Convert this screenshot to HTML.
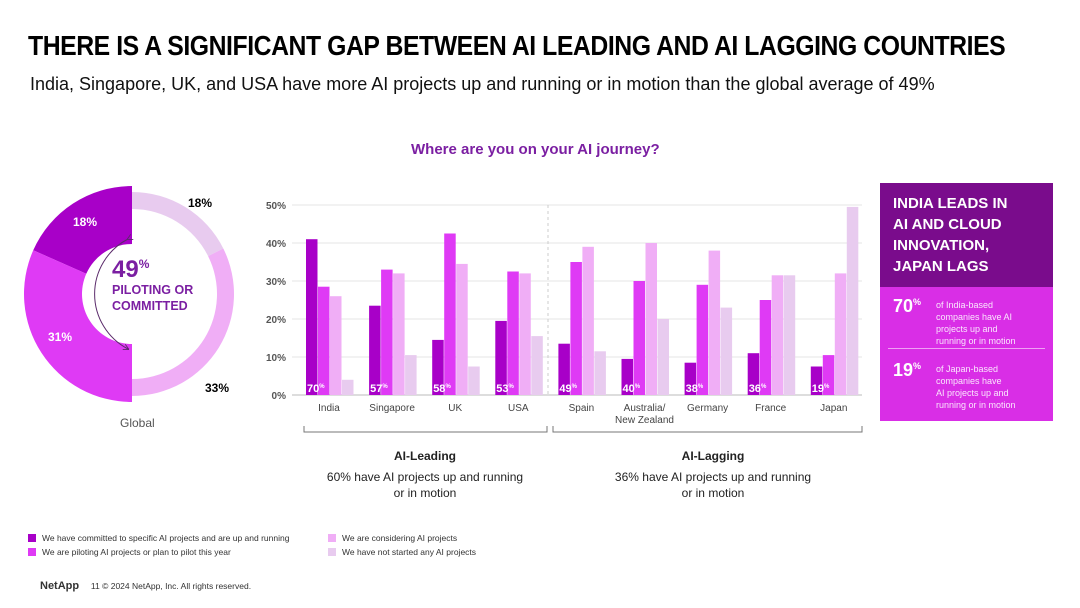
<!DOCTYPE html>
<html><head><meta charset="utf-8"><style>
body{margin:0;width:1080px;height:608px;background:#fff;font-family:"Liberation Sans",sans-serif;position:relative;overflow:hidden}
.a{position:absolute;white-space:nowrap}
</style></head><body>
<div class="a" style="left:28px;top:30px;font-size:28px;font-weight:bold;color:#000;transform:scaleX(0.885);transform-origin:left;letter-spacing:-0.5px">THERE IS A SIGNIFICANT GAP BETWEEN AI LEADING AND AI LAGGING COUNTRIES</div>
<div class="a" style="left:30px;top:74px;font-size:18px;color:#111">India, Singapore, UK, and USA have more AI projects up and running or in motion than the global average of 49%</div>
<div class="a" style="left:411px;top:141px;font-size:15px;font-weight:bold;color:#7b1fa2">Where are you on your AI journey?</div>

<svg class="a" style="left:0;top:0" width="1080" height="608">
<defs><marker id="ah" viewBox="0 0 10 10" refX="8" refY="5" markerWidth="6" markerHeight="6" orient="auto"><path d="M0 0 L10 5 L0 10" fill="none" stroke="#5a2a6a" stroke-width="1.5"/></marker></defs>
<g id="donut"></g>
<g id="bars"></g>
</svg>

<div class="a" style="left:112px;top:256px;color:#7b1fa2;font-weight:bold">
<div style="font-size:24px">49<sup style="font-size:12px">%</sup></div>
<div style="font-size:12.5px;line-height:16px;margin-top:-2px">PILOTING OR<br>COMMITTED</div></div>
<div class="a" style="left:120px;top:416px;font-size:12px;color:#555">Global</div>

<div class="a" style="left:300px;top:448px;width:250px;text-align:center;font-size:12px;color:#222;white-space:normal;line-height:16px"><b>AI-Leading</b><br><span style="display:block;margin-top:5px">60% have AI projects up and running<br>or in motion</span></div>
<div class="a" style="left:588px;top:448px;width:250px;text-align:center;font-size:12px;color:#222;white-space:normal;line-height:16px"><b>AI-Lagging</b><br><span style="display:block;margin-top:5px">36% have AI projects up and running<br>or in motion</span></div>

<div class="a" style="left:880px;top:183px;width:173px;height:238px;background:#d92ee6">
<div style="background:#7a0c8c;height:104px;padding:10px 0 0 13px;box-sizing:border-box;color:#fff;font-weight:bold;font-size:15px;line-height:21px">INDIA LEADS IN<br>AI AND CLOUD<br>INNOVATION,<br>JAPAN LAGS</div>
<div style="position:absolute;left:13px;top:113px;color:#fff;font-weight:bold;font-size:18px">70<sup style="font-size:9px">%</sup></div>
<div style="position:absolute;left:56px;top:116px;color:#fbe6fd;font-size:9px;line-height:12px">of India-based<br>companies have AI<br>projects up and<br>running or in motion</div>
<div style="position:absolute;left:8px;right:8px;top:165px;border-top:1px solid #f0a0f5"></div>
<div style="position:absolute;left:13px;top:177px;color:#fff;font-weight:bold;font-size:18px">19<sup style="font-size:9px">%</sup></div>
<div style="position:absolute;left:56px;top:180px;color:#fbe6fd;font-size:9px;line-height:12px">of Japan-based<br>companies have<br>AI projects up and<br>running or in motion</div>
</div>

<div class="a" style="left:28px;top:531px;font-size:8.5px;color:#333;line-height:14px">
<div style="position:absolute;left:0;top:0"><span style="display:inline-block;width:8px;height:8px;background:#a800c8;margin-right:6px;vertical-align:-1px"></span>We have committed to specific AI projects and are up and running</div>
<div style="position:absolute;left:0;top:14px"><span style="display:inline-block;width:8px;height:8px;background:#df3af5;margin-right:6px;vertical-align:-1px"></span>We are piloting AI projects or plan to pilot this year</div>
<div style="position:absolute;left:300px;top:0"><span style="display:inline-block;width:8px;height:8px;background:#f0aef6;margin-right:6px;vertical-align:-1px"></span>We are considering AI projects</div>
<div style="position:absolute;left:300px;top:14px"><span style="display:inline-block;width:8px;height:8px;background:#e8cbef;margin-right:6px;vertical-align:-1px"></span>We have not started any AI projects</div>
</div>
<div class="a" style="left:40px;top:580px;font-size:8.5px;color:#333"><b style="font-size:11px">NetApp</b>&nbsp;&nbsp;&nbsp;&nbsp; 11 © 2024 NetApp, Inc. All rights reserved.</div>

<script>
const categories=["India","Singapore","UK","USA","Spain","Australia/|New Zealand","Germany","France","Japan"];
const committed=[41,23.5,14.5,19.5,13.5,9.5,8.5,11,7.5];
const piloting=[28.5,33,42.5,32.5,35,30,29,25,10.5];
const considering=[26,32,34.5,32,39,40,38,31.5,32];
const notStarted=[4,10.5,7.5,15.5,11.5,20,23,31.5,49.5];
const totals=["70","57","58","53","49","40","38","36","19"];
const yTicks=[0,10,20,30,40,50];
const donutValues=[18,31,33,18];

const NS="http://www.w3.org/2000/svg";
const g=document.getElementById('bars');
function el(t,a,p){const e=document.createElementNS(NS,t);for(const k in a)e.setAttribute(k,a[k]);(p||g).appendChild(e);return e;}
const y0=395,pxPer=3.8;
const y=v=>y0-v*pxPer;
const x0=306,step=63.1,bw=11.5;
const gx=i=>x0+i*step;
yTicks.forEach(t=>{
  const l=el('line',{x1:292,x2:862,y1:y(t),y2:y(t),stroke:t===0?'#bbb':'#e4e4e4','stroke-width':1});
  
  
  const tx=el('text',{x:286,y:y(t)+4,'text-anchor':'end','font-size':10,'font-weight':'bold',fill:'#555'});
  tx.textContent=t+'%';
  
  
});
const dv=el('line',{x1:548,x2:548,y1:205,y2:395,stroke:'#ccc','stroke-dasharray':'3,3'});


const series=[committed,piloting,considering,notStarted];
const cols=['#a800c8','#df3af5','#f0aef6','#e8cbef'];
categories.forEach((c,i)=>{
  series.forEach((s,j)=>{
    const r=el('rect',{x:gx(i)+j*(bw+0.5),y:y(s[i]),width:bw,height:s[i]*pxPer,fill:cols[j]});
    
    
  });
  const t=el('text',{x:gx(i)+1,y:392,'font-size':11,'font-weight':'bold',fill:'#fff'});
  t.textContent=totals[i];
  const sp=el('tspan',{'font-size':6,dy:-4},t);sp.textContent='%';
  
  
  const parts=c.split('|');
  parts.forEach((p,k)=>{
    const lt=el('text',{x:gx(i)+23,y:411+k*12,'text-anchor':'middle','font-size':10,fill:'#444'});
    lt.textContent=p;
    
    
  });
});
[[304,547],[553,862]].forEach(([a,b])=>{
  const p=el('path',{d:`M${a} 426 V432 H${b} V426`,stroke:'#777',fill:'none'});
  
  
});
// donut
const dg=document.getElementById('donut');
const cx=132,cy=294;
function arc(a0,a1,ro,ri,fill){
  const P=(a,r)=>[cx+r*Math.sin(a),cy-r*Math.cos(a)];
  const [x1,y1]=P(a0,ro),[x2,y2]=P(a1,ro),[x3,y3]=P(a1,ri),[x4,y4]=P(a0,ri);
  const lg=Math.abs(a1-a0)>Math.PI?1:0,sw=a1>a0?1:0;
  return el('path',{d:`M${x1} ${y1} A${ro} ${ro} 0 ${lg} ${sw} ${x2} ${y2} L${x3} ${y3} A${ri} ${ri} 0 ${lg} ${1-sw} ${x4} ${y4}Z`,fill},dg);
}
const leftTot=donutValues[0]+donutValues[1],rightTot=donutValues[2]+donutValues[3];
const aD=-Math.PI*donutValues[0]/leftTot;
const s1=arc(0,aD,108,50,'#a800c8');


const s2=arc(aD,-Math.PI,108,50,'#df3af5');


const aN=Math.PI*donutValues[3]/rightTot;
const s3=arc(0,aN,102,85,'#e8cbef');


const s4=arc(aN,Math.PI,102,85,'#f0aef6');


const ar=el('path',{d:`M${cx-4} ${cy-55} A62 62 0 0 0 ${cx-4} ${cy+55}`,stroke:'#5a2a6a',fill:'none','stroke-width':1,'marker-start':'url(#ah)','marker-end':'url(#ah)'},dg);


const labs=[[73,226,donutValues[0],'#fff'],[48,341,donutValues[1],'#fff'],[205,392,donutValues[2],'#000'],[188,207,donutValues[3],'#000']];
labs.forEach(([lx,ly,v,f])=>{
  const t=el('text',{x:lx,y:ly,'font-size':12,'font-weight':'bold',fill:f},dg);
  t.textContent=v+'%';
  
  
});
</script>
</body></html>
